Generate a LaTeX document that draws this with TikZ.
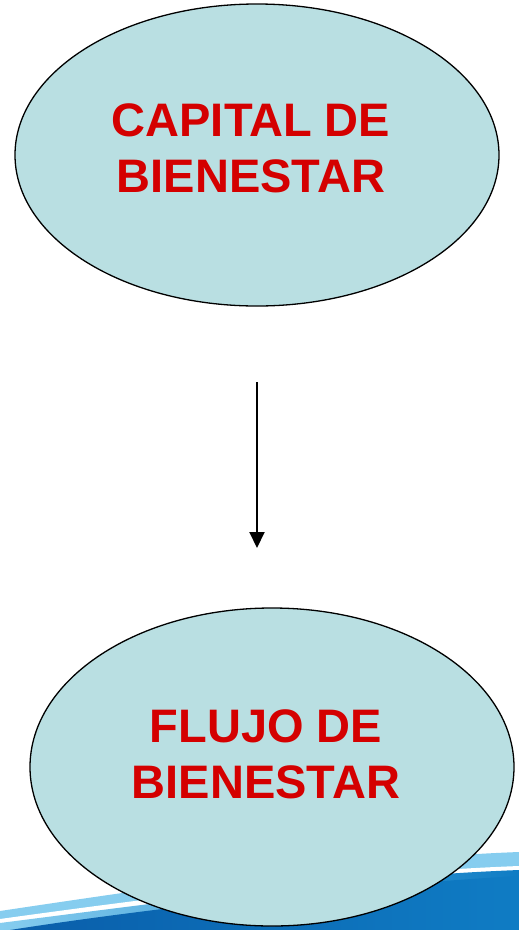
\documentclass[tikz,border=0pt]{standalone}
\usepackage{fontspec}
\setmainfont{Liberation Sans}
\usetikzlibrary{arrows.meta}
\usetikzlibrary{shapes.geometric}

\definecolor{bubblefill}{HTML}{B9DFE2}
\definecolor{titlered}{HTML}{D40000}
\definecolor{swooshlight}{HTML}{86CDEF}
\definecolor{swooshdark}{HTML}{0A5EAA}
\definecolor{swooshmid}{HTML}{0F7CC4}

\tikzset{
  bubble/.style={ellipse, draw, line width=1.3pt, fill=bubblefill, inner sep=0pt},
  bubbletext/.style={text=titlered, font=\bfseries\fontsize{47}{56}\selectfont, align=center}
}

\begin{document}
\begin{tikzpicture}[x=1pt, y=-1pt]
      \useasboundingbox (0,0) rectangle (519,930);

      % band at the bottom
      \fill[swooshlight] (0,911) .. controls (180,884) and (360,858) .. (519,852) -- (519,930) -- (0,930) -- cycle;
      \fill[white] (0,919) .. controls (180,894) and (360,872) .. (519,866) -- (519,930) -- (0,930) -- cycle;
      \shade[left color=swooshlight, right color=swooshmid] (0,923) .. controls (180,900) and (360,876) .. (519,870) -- (519,930) -- (0,930) -- cycle;
      \shade[left color=swooshdark, right color=swooshmid] (10,930) .. controls (150,908) and (360,885) .. (519,876) -- (519,930) -- cycle;

      \node[bubble, minimum width=484pt, minimum height=302pt] (capital) at (257,155) {};
      \node[bubbletext] (captxt) at (251,148) {CAPITAL DE\\BIENESTAR};

      \node[bubble, minimum width=484pt, minimum height=318pt] (flujo) at (272,767) {};
      \node[bubbletext] (flutxt) at (266,754) {FLUJO DE\\BIENESTAR};

      \coordinate (from) at (257,382);
      \coordinate (to) at (257,548);
      \draw[line width=2pt, -{Triangle[length=16pt, width=15pt]}] (from) -- (to);
    \end{tikzpicture}
\end{document}
